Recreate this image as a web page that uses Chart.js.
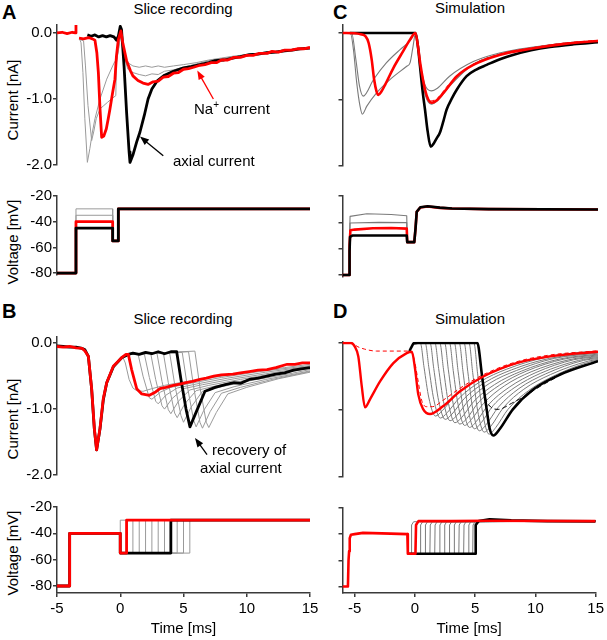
<!DOCTYPE html>
<html>
<head>
<meta charset="utf-8">
<title>Axial current recovery</title>
<script src="https://cdn.jsdelivr.net/npm/chart.js@4.4.1/dist/chart.umd.min.js"></script>
<style>
  html, body { margin: 0; padding: 0; background: #fff; }
  #figure { position: relative; width: 607px; height: 640px; overflow: hidden; background: #fff;
            font-family: 'Liberation Sans', Arial, sans-serif; color: #000; }
  #figure canvas { position: absolute; }
  .letter { position: absolute; font-weight: bold; font-size: 20px; line-height: 1; }
  .col-title { position: absolute; font-size: 15px; line-height: 1; white-space: nowrap; transform: translateX(-50%); }
  .axis-title { position: absolute; font-size: 15px; line-height: 1; white-space: nowrap;
                transform: translate(-50%, -50%) rotate(-90deg); }
</style>
</head>
<body>
<div id="figure">
  <div class="letter" style="left:2px; top:2px;">A</div>
  <div class="letter" style="left:333px; top:2px;">C</div>
  <div class="letter" style="left:2px; top:301px;">B</div>
  <div class="letter" style="left:333px; top:301px;">D</div>
  <div class="col-title" style="left:183px; top:1px;">Slice recording</div>
  <div class="col-title" style="left:470px; top:0px;">Simulation</div>
  <div class="col-title" style="left:183px; top:311px;">Slice recording</div>
  <div class="col-title" style="left:470px; top:311px;">Simulation</div>
  <div class="axis-title" style="left:12px; top:100px;">Current [nA]</div>
  <div class="axis-title" style="left:12px; top:242px;">Voltage [mV]</div>
  <div class="axis-title" style="left:12px; top:419px;">Current [nA]</div>
  <div class="axis-title" style="left:12px; top:553px;">Voltage [mV]</div>
</div>
<script>
const TIME_TICKS = [-5, 0, 5, 10, 15];
const CURRENT_TICKS = [0, -1, -2];
const VOLTAGE_TICKS = [-20, -40, -60, -80];

// ---- A: prepulse series, slice recording ----
const aCurrentRed = [[-5,0],[-4.6,0.01],[-4.2,-0.01],[-3.8,0.01],[-3.55,0],[-3.5,0.16],[-3.45,null],
  [-3.26,-0.08],[-2.9,-0.09],[-2.5,-0.07],[-2.2,-0.09],[-2.0,-0.11],[-1.85,-0.3],[-1.73,-0.6],[-1.6,-1.15],
  [-1.47,-1.58],[-1.3,-1.56],[-1.1,-1.45],[-0.95,-1.3],[-0.81,-1.15],[-0.6,-0.9],[-0.42,-0.7],[-0.3,-0.35],
  [-0.15,-0.1],[0.05,0.03],[0.2,-0.15],[0.5,-0.42],[0.8,-0.57],[1.0,-0.65],[1.4,-0.72],[1.8,-0.76],[2.2,-0.78],
  [2.6,-0.74],[3.0,-0.73],[3.4,-0.67],[3.8,-0.66],[4.2,-0.61],[4.6,-0.6],[5.0,-0.55],[5.4,-0.54],[5.8,-0.52],
  [6.3,-0.49],[6.7,-0.48],[7.2,-0.45],[7.6,-0.45],[8.0,-0.41],[8.5,-0.41],[9.0,-0.37],[9.5,-0.37],[10,-0.34],
  [10.5,-0.34],[11,-0.31],[11.6,-0.31],[12,-0.28],[12.5,-0.29],[13,-0.26],[13.5,-0.26],[14,-0.24],[14.5,-0.24],[15,-0.22]];
const aCurrentBlack = [[-2.6,-0.03],[-2.3,-0.05],[-2.0,-0.03],[-1.7,-0.06],[-1.4,-0.04],[-1.1,-0.06],[-0.8,-0.04],
  [-0.5,-0.06],[-0.3,-0.11],[-0.15,-0.05],[0.0,0.1],[0.1,0.05],[0.3,-0.5],[0.5,-1.2],[0.7,-1.8],[0.77,-1.96],
  [1.0,-1.85],[1.3,-1.65],[1.56,-1.5],[1.9,-1.25],[2.2,-1.0],[2.5,-0.85],[2.9,-0.73],[3.5,-0.64],[4.2,-0.58],
  [5.0,-0.53],[5.6,-0.51],[6.3,-0.48],[7.0,-0.45],[7.5,-0.42],[8.2,-0.41],[8.9,-0.38],[9.5,-0.36],[10.2,-0.33],
  [10.9,-0.32],[11.6,-0.3],[12.3,-0.29],[13,-0.27],[13.6,-0.26],[14.2,-0.24],[15,-0.23]];
const aCurrentGray = [
  [[-3.2,-0.1],[-3.1,-0.15],[-2.95,-0.6],[-2.8,-1.3],[-2.6,-1.96],[-2.4,-1.75],[-2.2,-1.5],[-2.0,-1.3],[-1.6,-1.0],
   [-1.07,-0.7],[-0.6,-0.5],[-0.42,-0.43],[-0.3,-0.42],[-0.1,-0.2],[0.06,0.03],[0.3,-0.3],[0.6,-0.45],[1.0,-0.5],
   [1.5,-0.52],[2.0,-0.5],[2.5,-0.52],[3.0,-0.5],[3.5,-0.52],[4.2,-0.5],[5.0,-0.48],[6.0,-0.45],[7.0,-0.41],
   [8.0,-0.38],[9.0,-0.35],[10,-0.33],[11,-0.3],[12,-0.28],[13,-0.27],[14,-0.24],[15,-0.22]],
  [[-3.2,-0.1],[-2.9,-0.12],[-2.75,-0.5],[-2.55,-1.1],[-2.26,-1.63],[-2.1,-1.5],[-1.9,-1.3],[-1.6,-1.15],
   [-1.3,-1.1],[-1.0,-1.05],[-0.7,-1.0],[-0.35,-0.95],[-0.3,-0.45],[-0.1,-0.2],[0.06,0.03],[0.3,-0.35],
   [0.6,-0.55],[1.0,-0.6],[1.5,-0.63],[2.0,-0.65],[2.5,-0.62],[3.0,-0.63],[3.5,-0.58],[4.2,-0.56],[5.0,-0.52],
   [6.0,-0.47],[7.0,-0.42],[8.0,-0.39],[9.0,-0.36],[10,-0.33],[11,-0.31],[12,-0.29],[13,-0.27],[14,-0.25],[15,-0.23]]
];
const aProtocolTimes = [-3.5, -0.6, -0.15];   // prepulse on, gap step, test step
const aHold = -80, aGap = -55, aTest = -30;
const aLevelRed = -40;
const aLevelBlack = -45;
const aLevelGray = [-30, -35];

// ---- B: recovery series, slice recording ----
const bCurrentRed = [[-5,-0.05],[-4.5,-0.06],[-4.0,-0.05],[-3.5,-0.07],[-3.0,-0.08],[-2.79,-0.12],[-2.52,-0.2],
  [-2.26,-0.69],[-2.05,-1.29],[-1.87,-1.62],[-1.6,-1.29],[-1.34,-0.84],[-1.07,-0.6],[-0.55,-0.35],[0.11,-0.22],
  [0.45,-0.17],[0.64,-0.17],[0.9,-0.4],[1.3,-0.69],[1.7,-0.77],[2.3,-0.79],[2.8,-0.74],[3.14,-0.69],[3.6,-0.67],
  [4.2,-0.64],[4.7,-0.62],[5.2,-0.6],[5.7,-0.58],[6.3,-0.55],[6.8,-0.53],[7.4,-0.5],[8.0,-0.48],[8.9,-0.47],
  [9.5,-0.45],[10.2,-0.43],[10.9,-0.41],[11.6,-0.4],[12.3,-0.37],[13.2,-0.32],[13.8,-0.32],[14.4,-0.3],[15,-0.3]];
const bCurrentBlack = [[-5,-0.04],[-4.5,-0.05],[-4.0,-0.06],[-3.5,-0.06],[-3.0,-0.08],[-2.79,-0.1],[-2.52,-0.2],
  [-2.26,-0.7],[-2.05,-1.3],[-1.87,-1.62],[-1.6,-1.3],[-1.34,-0.86],[-1.07,-0.6],[-0.55,-0.36],[0.11,-0.22],
  [0.64,-0.17],[1.0,-0.15],[1.5,-0.17],[2.0,-0.14],[2.5,-0.16],[3.0,-0.13],[3.5,-0.16],[4.0,-0.13],[4.46,-0.13],
  [4.8,-0.55],[5.2,-1.0],[5.51,-1.27],[6.1,-1.0],[6.7,-0.73],[7.1,-0.7],[7.5,-0.67],[8.3,-0.63],[9.0,-0.6],
  [9.5,-0.61],[10.2,-0.55],[10.9,-0.53],[11.6,-0.5],[12.3,-0.47],[13.0,-0.45],[13.7,-0.41],[14.3,-0.39],[15,-0.37]];
const bCurrentGray = [
  [[0.2,-0.21],[0.4,-0.3],[0.7,-0.55],[1.0,-0.68],[1.3,-0.72],[1.8,-0.73],[2.5,-0.69],[3.5,-0.64],[5.0,-0.59],[7.0,-0.53],[9.0,-0.47],[11.0,-0.42],[13.0,-0.37],[15,-0.32]],
  [[0.6,-0.17],[1.0,-0.15],[1.4,-0.16],[1.8,-0.5],[2.3,-0.83],[2.5,-0.85],[3.2,-0.74],[4.0,-0.67],[5.5,-0.61],[8,-0.52],[11,-0.43],[15,-0.34]],
  [[0.6,-0.17],[1.9,-0.16],[2.3,-0.52],[2.8,-0.88],[3.0,-0.92],[3.6,-0.79],[4.5,-0.68],[6,-0.62],[8.5,-0.53],[11.5,-0.44],[15,-0.35]],
  [[0.6,-0.17],[2.4,-0.15],[2.8,-0.55],[3.3,-0.95],[3.5,-1.0],[4.1,-0.84],[5.0,-0.69],[6.5,-0.63],[9,-0.54],[12,-0.45],[15,-0.36]],
  [[0.6,-0.17],[2.9,-0.15],[3.3,-0.58],[3.8,-1.01],[4.0,-1.07],[4.6,-0.88],[5.5,-0.71],[7,-0.64],[9.5,-0.55],[12.5,-0.45],[15,-0.37]],
  [[0.6,-0.17],[3.4,-0.14],[3.8,-0.6],[4.3,-1.06],[4.5,-1.13],[5.1,-0.92],[6.0,-0.72],[7.5,-0.65],[10,-0.56],[13,-0.45],[15,-0.38]],
  [[0.6,-0.17],[3.9,-0.14],[4.3,-0.62],[4.8,-1.1],[5.0,-1.2],[5.6,-0.97],[6.5,-0.73],[8,-0.66],[10.5,-0.56],[13.5,-0.46],[15,-0.4]],
  [[0.6,-0.17],[4.9,-0.14],[5.3,-0.65],[5.8,-1.17],[6.0,-1.27],[6.6,-1.02],[7.5,-0.75],[9,-0.66],[11.5,-0.55],[14,-0.46],[15,-0.42]],
  [[0.6,-0.17],[5.4,-0.13],[5.8,-0.66],[6.3,-1.2],[6.5,-1.29],[7.1,-1.04],[8.0,-0.76],[9.5,-0.67],[12,-0.55],[15,-0.43]],
  [[0.6,-0.17],[5.9,-0.12],[6.3,-0.67],[6.8,-1.2],[7.0,-1.28],[7.6,-1.05],[8.5,-0.77],[10,-0.67],[12.5,-0.54],[15,-0.44]]
];
const bProtocolTimes = [-4, 0];   // prepulse on, gap step
const bHold = -80, bPre = -40, bGap = -55, bTest = -30;
const bRecoveryRed = 0.5;
const bRecoveryBlack = 4.0;
const bRecoveryGray = [0.0, 1.0, 1.5, 2.0, 2.5, 3.0, 3.5, 4.5, 5.0, 5.5];

// ---- C: prepulse series, simulation ----
const cCurrentRed = [[-6,0],[-5,-0.005],[-4.5,-0.02],[-4.1,-0.05],[-3.85,-0.15],[-3.6,-0.4],[-3.4,-0.7],[-3.2,-0.88],
  [-3.05,-0.93],[-2.8,-0.88],[-2.5,-0.78],[-1.8,-0.52],[-1.0,-0.27],[-0.45,-0.1],[0,0],[0.2,-0.2],[0.4,-0.47],
  [0.78,-0.85],[1.05,-1.0],[1.35,-1.05],[1.7,-1.02],[2.3,-0.9],[3.4,-0.65],[4.75,-0.48],[6.9,-0.33],[9.7,-0.23],
  [12.4,-0.16],[15,-0.12]];
const cCurrentRedDashed = [[0,0],[0.37,-0.46],[0.78,-0.86],[1.3,-1.02],[1.8,-0.98],[2.8,-0.76],[4.75,-0.47],
  [6.9,-0.32],[9.7,-0.22],[12.4,-0.15],[15,-0.11]];
const cCurrentBlack = [[-5.4,0],[-2,0],[0,0],[0.2,-0.2],[0.37,-0.5],[0.6,-0.9],[0.78,-1.15],[1.0,-1.48],[1.25,-1.71],
  [1.5,-1.66],[1.75,-1.58],[2.0,-1.5],[2.3,-1.32],[2.56,-1.15],[3.0,-0.98],[3.4,-0.85],[4.2,-0.65],[5.0,-0.55],
  [5.85,-0.48],[7.0,-0.39],[8.0,-0.33],[9.5,-0.26],[11.05,-0.21],[13,-0.17],[15,-0.14]];
const cCurrentGray = [
  [[-6,0],[-5.35,0],[-5.1,-0.25],[-4.83,-0.75],[-4.56,-1.1],[-4.37,-1.22],[-4.0,-1.1],[-3.2,-0.9],[-2.1,-0.7],
   [-0.72,-0.5],[-0.45,-0.45],[-0.2,-0.2],[0,0],[0.37,-0.45],[0.78,-0.78],[1.3,-0.87],[1.8,-0.83],[2.8,-0.65],
   [4.75,-0.43],[6.9,-0.3],[9.7,-0.21],[12.4,-0.15],[15,-0.12]],
  [[-6,0],[-5.25,0],[-4.9,-0.4],[-4.6,-0.8],[-4.3,-0.95],[-3.45,-0.7],[-2.4,-0.45],[-1.27,-0.25],[-0.45,-0.12],
   [0,0],[0.37,-0.48],[0.78,-0.92],[1.3,-1.07],[1.8,-1.02],[2.8,-0.8],[4.75,-0.47],[6.9,-0.32],[9.7,-0.22],
   [12.4,-0.15],[15,-0.12]]
];
const cVoltageBlack = [[-6,-80],[-5.45,-80],[-5.42,-62],[-5.38,-51],[-5.2,-50],[-3,-50],[-0.72,-50],[-0.68,-55],
  [-0.1,-55],[0.0,-45],[0.1,-32],[0.4,-28.5],[1.0,-27.8],[2.0,-28.8],[3.0,-29.5],[6,-30],[15,-30.2]];
const cVoltageRed = [[-6,-80],[-5.45,-80],[-5.42,-57],[-5.35,-46],[-5.0,-45.5],[-3.5,-44.5],[-2.0,-44.3],
  [-0.72,-44.8],[-0.68,-55],[-0.1,-55],[0.0,-45],[0.1,-32],[0.4,-28.7],[1.0,-28],[2.0,-29],[3.0,-29.5],[6,-30],[15,-30.2]];
const cVoltageGray = [
  [[-5.45,-80],[-5.42,-55],[-5.38,-40.5],[-3,-40],[-0.72,-40.2],[-0.68,-55],[-0.1,-55],[0.0,-45],[0.1,-32],[0.4,-28.6]],
  [[-5.45,-80],[-5.42,-55],[-5.38,-35.5],[-4,-33.5],[-2,-34],[-0.72,-35],[-0.68,-55],[-0.1,-55],[0.0,-45],[0.1,-32],[0.4,-28.6]]
];

// ---- D: recovery series, simulation ----
const dCurrentRed = [[-6,0],[-5.3,0],[-5.0,-0.05],[-4.7,-0.2],[-4.42,-0.64],[-4.15,-0.96],[-3.74,-0.84],[-2.9,-0.57],
  [-1.82,-0.3],[-0.72,-0.15],[-0.3,-0.13],[-0.04,-0.38],[0.23,-0.77],[0.64,-0.99],[1.19,-1.06],[2.28,-0.94],
  [3.66,-0.72],[5.57,-0.5],[8.3,-0.3],[11.05,-0.2],[15,-0.13]];
const dCurrentRedDashed = [[-6,0],[-5.2,0],[-4.8,-0.05],[-4.2,-0.09],[-3.2,-0.12],[-0.4,-0.12],[-0.1,-0.25],
  [0.2,-0.55],[0.5,-0.85],[0.9,-0.95],[1.4,-0.95],[2.3,-0.85],[3.7,-0.67],[5.6,-0.47],[8.3,-0.28],[11,-0.18],[15,-0.115]];
const dCurrentBlack = [[-0.5,-0.12],[-0.3,-0.05],[-0.15,-0.005],[0.2,0],[5.1,0],[5.2,-0.08],[5.44,-0.45],[5.85,-0.99],
  [6.1,-1.28],[6.4,-1.38],[6.94,-1.28],[8.0,-0.99],[9.7,-0.69],[11.9,-0.47],[15,-0.27]];
const dCurrentBlackDashed = [[5.44,-0.45],[5.7,-0.78],[6.1,-0.94],[6.8,-0.99],[7.9,-0.9],[9.0,-0.79],[10.3,-0.64],[11.5,-0.52]];
const dCurrentGray = [
  [[-0.15,0],[0.4,0],[0.7,-0.36],[1.1,-0.82],[1.64,-1.09],[2.2,-1.01],[3.2,-0.8],[4.9,-0.57],[7.1,-0.38],[10.2,-0.22],[14.4,-0.13],[15,-0.125]],
  [[-0.15,0],[0.8,0],[1.1,-0.37],[1.5,-0.84],[2.04,-1.12],[2.6,-1.04],[3.6,-0.82],[5.3,-0.58],[7.5,-0.39],[10.6,-0.22],[14.8,-0.13],[15,-0.13]],
  [[-0.15,0],[1.2,0],[1.5,-0.38],[1.9,-0.86],[2.44,-1.14],[3.0,-1.06],[4.0,-0.83],[5.7,-0.59],[7.9,-0.4],[11.0,-0.23],[15,-0.14]],
  [[-0.15,0],[1.6,0],[1.9,-0.38],[2.3,-0.87],[2.84,-1.16],[3.4,-1.08],[4.4,-0.85],[6.1,-0.6],[8.3,-0.41],[11.4,-0.23],[15,-0.15]],
  [[-0.15,0],[2.0,0],[2.3,-0.39],[2.7,-0.89],[3.24,-1.19],[3.8,-1.11],[4.8,-0.87],[6.5,-0.62],[8.7,-0.42],[11.8,-0.24],[15,-0.165]],
  [[-0.15,0],[2.4,0],[2.7,-0.4],[3.1,-0.91],[3.64,-1.21],[4.2,-1.13],[5.2,-0.88],[6.9,-0.63],[9.1,-0.42],[12.2,-0.24],[15,-0.178]],
  [[-0.15,0],[2.8,0],[3.1,-0.41],[3.5,-0.92],[4.04,-1.23],[4.6,-1.14],[5.6,-0.9],[7.3,-0.64],[9.5,-0.43],[12.6,-0.25],[15,-0.19]],
  [[-0.15,0],[3.2,0],[3.5,-0.42],[3.9,-0.95],[4.44,-1.26],[5.0,-1.17],[6.0,-0.92],[7.7,-0.66],[9.9,-0.44],[13.0,-0.25],[15,-0.204]],
  [[-0.15,0],[3.6,0],[3.9,-0.42],[4.3,-0.96],[4.84,-1.28],[5.4,-1.19],[6.4,-0.93],[8.1,-0.67],[10.3,-0.45],[13.4,-0.26],[15,-0.217]],
  [[-0.15,0],[4.0,0],[4.3,-0.43],[4.7,-0.98],[5.24,-1.31],[5.8,-1.22],[6.8,-0.96],[8.5,-0.68],[10.7,-0.46],[13.8,-0.26],[15,-0.232]],
  [[-0.15,0],[4.4,0],[4.7,-0.44],[5.1,-1.0],[5.64,-1.33],[6.2,-1.24],[7.2,-0.97],[8.9,-0.69],[11.1,-0.47],[14.2,-0.27],[15,-0.246]],
  [[-0.15,0],[4.8,0],[5.1,-0.45],[5.5,-1.02],[6.04,-1.36],[6.6,-1.26],[7.6,-0.99],[9.3,-0.71],[11.5,-0.48],[14.6,-0.27],[15,-0.26]]
];
const dVoltageRed = [[-6,-80],[-5.55,-80],[-5.5,-60],[-5.45,-53],[-5.4,-43],[-5.3,-40.5],[-5,-40],[-4.3,-39],
  [-3.5,-39.2],[-2,-39.6],[-0.62,-40],[-0.58,-55],[0.05,-55],[0.1,-33],[0.3,-30],[3,-30],[6,-29.8],[15,-30]];
const dVoltageBlack = [[-0.58,-55],[5.0,-55],[5.05,-33],[5.3,-30],[6.2,-28.6],[8,-29.5],[11,-30],[15,-30.2]];
const dRecoveryGray = [-0.3, 0.45, 0.85, 1.25, 1.65, 2.05, 2.45, 2.85, 3.25, 3.65, 4.05, 4.45, 4.8];
const dGapStart = -0.6, dPre = -40, dGap = -55, dTest = -30;

// ---- styling ----
const FONT = "'Liberation Sans', Arial, sans-serif";
const RED = '#ff0000';
const BLACK = '#000000';
const GRAY = '#9a9a9a';
const SIM_GRAY = '#7a7a7a';
const AXIS = '#3a3a3a';

Chart.defaults.font.family = FONT;
Chart.defaults.font.size = 15;
Chart.defaults.color = '#000';

const figure = document.getElementById('figure');

function toPoints(pairs) {
    return pairs.map(([x, y]) => ({ x, y }));
}

function trace(pairs, color, width, order, opts = {}) {
    return {
        data: toPoints(pairs),
        borderColor: color,
        borderWidth: width,
        borderDash: opts.dash || [],
        cubicInterpolationMode: opts.smooth ? 'monotone' : 'default',
        tension: 0,
        pointRadius: 0,
        fill: false,
        spanGaps: false,
        borderJoinStyle: 'round',
        order: order
    };
}

// step protocols built from the level / time lists above
function aStep(level) {
    const [tOn, tGap, tTest] = aProtocolTimes;
    return [[-5, aHold], [tOn, aHold], [tOn, level], [tGap, level], [tGap, aGap], [tTest, aGap], [tTest, aTest], [15, aTest]];
}
function bStep(recovery) {
    const [tOn, tGap] = bProtocolTimes;
    return [[-5, bHold], [tOn, bHold], [tOn, bPre], [tGap, bPre], [tGap, bGap], [recovery, bGap], [recovery, bTest], [15, bTest]];
}
function dStep(recovery) {
    return [[dGapStart, dPre], [dGapStart + 0.04, dGap], [recovery, dGap], [recovery + 0.03, -33], [recovery + 0.2, -30.5], [15, dTest]];
}

// text and arrows placed in data coordinates
function notesPlugin(notes) {
    return {
        id: 'notes',
        afterDatasetsDraw(chart) {
            const { ctx } = chart;
            const xs = chart.scales.x, ys = chart.scales.y;
            const px = ([t, v]) => [xs.getPixelForValue(t), ys.getPixelForValue(v)];
            ctx.save();
            notes.forEach(note => {
                ctx.strokeStyle = note.color || BLACK;
                ctx.fillStyle = note.color || BLACK;
                if (note.arrow) {
                    const [x0, y0] = px(note.arrow[0]);
                    const [x1, y1] = px(note.arrow[1]);
                    const ang = Math.atan2(y1 - y0, x1 - x0);
                    const head = 9, half = 3.5;
                    ctx.lineWidth = 1.3;
                    ctx.beginPath();
                    ctx.moveTo(x0, y0);
                    ctx.lineTo(x1 - head * 0.8 * Math.cos(ang), y1 - head * 0.8 * Math.sin(ang));
                    ctx.stroke();
                    ctx.beginPath();
                    ctx.moveTo(x1, y1);
                    ctx.lineTo(x1 - head * Math.cos(ang) + half * Math.sin(ang), y1 - head * Math.sin(ang) - half * Math.cos(ang));
                    ctx.lineTo(x1 - head * Math.cos(ang) - half * Math.sin(ang), y1 - head * Math.sin(ang) + half * Math.cos(ang));
                    ctx.closePath();
                    ctx.fill();
                }
                if (note.text) {
                    let [x, y] = px(note.at);
                    ctx.textBaseline = 'alphabetic';
                    ctx.textAlign = 'left';
                    note.text.forEach(([s, kind]) => {
                        ctx.font = (kind === 'sup' ? '10px ' : '15px ') + FONT;
                        ctx.fillText(s, x, kind === 'sup' ? y - 6 : y);
                        x += ctx.measureText(s).width;
                    });
                }
            });
            ctx.restore();
        }
    };
}

function panel(box, spec) {
    const canvas = document.createElement('canvas');
    canvas.width = box.w;
    canvas.height = box.h;
    canvas.style.left = box.x + 'px';
    canvas.style.top = box.y + 'px';
    canvas.style.width = box.w + 'px';
    canvas.style.height = box.h + 'px';
    figure.appendChild(canvas);

    const axisLine = { display: true, color: AXIS, width: 1.5 };
    const tickMarks = { display: true, drawOnChartArea: false, drawTicks: true, tickLength: 4, color: AXIS, lineWidth: 1.5 };

    return new Chart(canvas, {
        type: 'line',
        data: { datasets: spec.datasets },
        options: {
            responsive: false,
            maintainAspectRatio: false,
            animation: false,
            events: [],
            layout: {
                autoPadding: false,
                padding: { left: 0, top: box.padTop, right: box.x + box.w - box.right, bottom: box.padBottom }
            },
            plugins: { legend: { display: false }, tooltip: { enabled: false } },
            scales: {
                x: {
                    type: 'linear',
                    min: spec.xMin,
                    max: 15,
                    display: !!spec.showTime,
                    afterBuildTicks: s => { s.ticks = TIME_TICKS.map(value => ({ value })); },
                    afterFit: s => { s.height = spec.showTime ? 45 : 0; },
                    grid: tickMarks,
                    border: axisLine,
                    ticks: { padding: 3, maxRotation: 0, autoSkip: false, font: { size: 15 } },
                    title: { display: true, text: 'Time [ms]', font: { size: 15 }, padding: 0 }
                },
                y: {
                    type: 'linear',
                    min: spec.yMin,
                    max: spec.yMax,
                    afterBuildTicks: s => { s.ticks = spec.yTicks.map(value => ({ value })); },
                    afterFit: s => { s.width = box.right === 310 ? 57 : 12.5; },
                    grid: tickMarks,
                    border: axisLine,
                    ticks: { display: !!spec.yLabels, padding: 1, font: { size: 15 }, callback: spec.yFormat }
                }
            }
        },
        plugins: [notesPlugin(spec.notes || [])]
    });
}

const fmtCurrent = v => Number(v).toFixed(1);
const fmtVoltage = v => String(v);

// ---- A ----
panel({ x: 0, y: 0, w: 325, h: 175, right: 310, padTop: 25, padBottom: 9 }, {
    xMin: -5, yMin: -2, yMax: 0.12, yTicks: CURRENT_TICKS, yLabels: true, yFormat: fmtCurrent,
    datasets: [
        ...aCurrentGray.map(g => trace(g, GRAY, 1, 3)),
        trace(aCurrentBlack, BLACK, 2.8, 1),
        trace(aCurrentRed, RED, 2.8, 0)
    ],
    notes: [
        { arrow: [[7.36, -1.0], [6.09, -0.57]], color: RED },
        { text: [['Na'], ['+', 'sup'], [' current']], at: [5.83, -1.23] },
        { arrow: [[3.4, -1.86], [1.56, -1.57]], color: BLACK },
        { text: [['axial current']], at: [4.17, -2.02] }
    ]
});
panel({ x: 0, y: 180, w: 325, h: 105, right: 310, padTop: 16, padBottom: 8 }, {
    xMin: -5, yMin: -81.5, yMax: -20, yTicks: VOLTAGE_TICKS, yLabels: true, yFormat: fmtVoltage,
    datasets: [
        ...aLevelGray.map(l => trace(aStep(l), GRAY, 1, 3)),
        trace(aStep(aLevelRed), RED, 2.8, 1),
        trace(aStep(aLevelBlack), BLACK, 2.8, 0)
    ]
});

// ---- B ----
panel({ x: 0, y: 326, w: 325, h: 159, right: 310, padTop: 10.6, padBottom: 8 }, {
    xMin: -5, yMin: -2, yMax: 0.1, yTicks: CURRENT_TICKS, yLabels: true, yFormat: fmtCurrent,
    datasets: [
        ...bCurrentGray.map(g => trace(g, GRAY, 1, 3)),
        trace(bCurrentBlack, BLACK, 2.8, 1),
        trace(bCurrentRed, RED, 2.8, 0)
    ],
    notes: [
        { arrow: [[6.86, -1.69], [5.91, -1.44]], color: BLACK },
        { text: [['recovery of']], at: [7.25, -1.70] },
        { text: [['axial current']], at: [6.3, -1.97] }
    ]
});
panel({ x: 0, y: 490, w: 325, h: 150, right: 310, padTop: 17, padBottom: 2 }, {
    xMin: -5, yMin: -85.3, yMax: -20, yTicks: VOLTAGE_TICKS, yLabels: true, yFormat: fmtVoltage, showTime: true,
    datasets: [
        ...bRecoveryGray.map(r => trace(bStep(r), GRAY, 1, 3)),
        trace(bStep(bRecoveryBlack), BLACK, 2.8, 1),
        trace(bStep(bRecoveryRed), RED, 2.8, 0)
    ]
});

// ---- C ----
panel({ x: 330, y: 0, w: 277, h: 175, right: 598, padTop: 25, padBottom: 9 }, {
    xMin: -6, yMin: -2, yMax: 0.12, yTicks: CURRENT_TICKS,
    datasets: [
        ...cCurrentGray.map(g => trace(g, SIM_GRAY, 1.1, 3, { smooth: true })),
        trace(cCurrentRedDashed, RED, 1, 2, { smooth: true, dash: [4, 3] }),
        trace(cCurrentBlack, BLACK, 2.6, 1, { smooth: true }),
        trace(cCurrentRed, RED, 2.6, 0, { smooth: true })
    ]
});
panel({ x: 330, y: 180, w: 277, h: 105, right: 598, padTop: 16, padBottom: 8 }, {
    xMin: -6, yMin: -81.5, yMax: -20, yTicks: VOLTAGE_TICKS,
    datasets: [
        ...cVoltageGray.map(g => trace(g, SIM_GRAY, 1.1, 3)),
        trace(cVoltageRed, RED, 2.6, 1),
        trace(cVoltageBlack, BLACK, 2.6, 0)
    ]
});

// ---- D ----
panel({ x: 330, y: 326, w: 277, h: 159, right: 598, padTop: 15.7, padBottom: 8 }, {
    xMin: -6, yMin: -2, yMax: 0.02, yTicks: CURRENT_TICKS,
    datasets: [
        ...dCurrentGray.map(g => trace(g, SIM_GRAY, 1, 3, { smooth: true })),
        trace(dCurrentBlackDashed, BLACK, 1, 2, { smooth: true, dash: [5, 3] }),
        trace(dCurrentRedDashed, RED, 1, 2, { smooth: true, dash: [4, 3] }),
        trace(dCurrentBlack, BLACK, 2.6, 1, { smooth: true }),
        trace(dCurrentRed, RED, 2.4, 0, { smooth: true })
    ]
});
panel({ x: 330, y: 490, w: 277, h: 150, right: 598, padTop: 18, padBottom: 2 }, {
    xMin: -6, yMin: -85, yMax: -20, yTicks: VOLTAGE_TICKS, showTime: true,
    datasets: [
        ...dRecoveryGray.map(r => trace(dStep(r), SIM_GRAY, 1, 3)),
        trace(dVoltageBlack, BLACK, 2.6, 1),
        trace(dVoltageRed, RED, 2.6, 0)
    ]
});
</script>
</body>
</html>
